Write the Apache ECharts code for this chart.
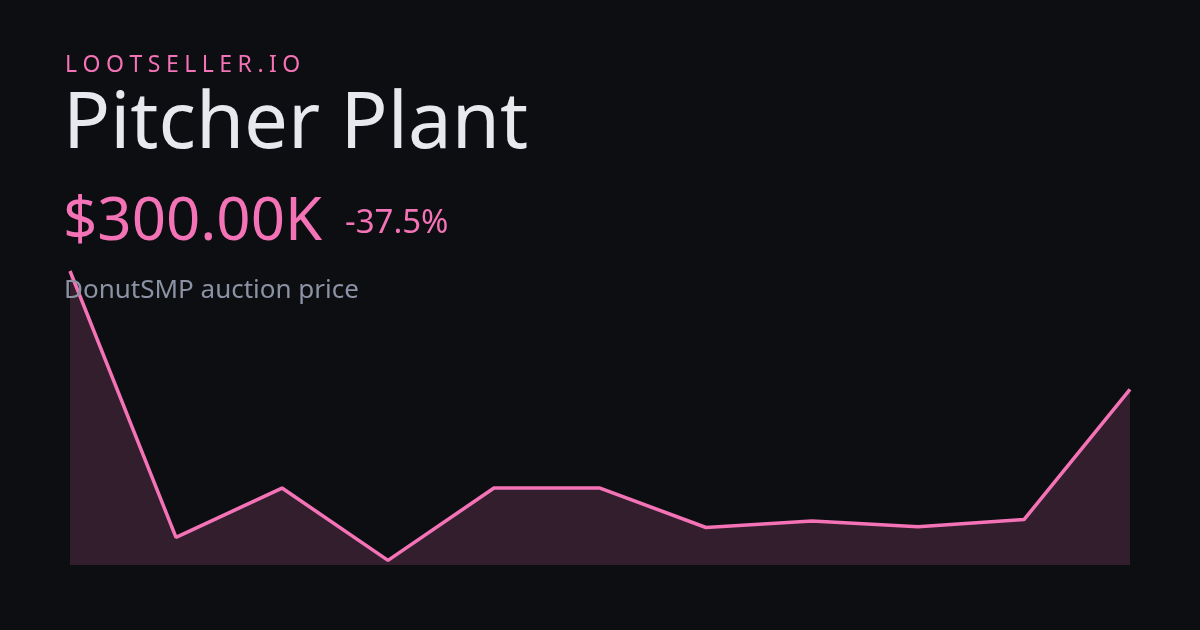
<!DOCTYPE html>
<html>
<head>
<meta charset="utf-8">
<script src="https://cdn.jsdelivr.net/npm/echarts@6/dist/echarts.min.js"></script>
<style>
html,body{margin:0;padding:0;background:#0d0e12;}
#chart{width:1200px;height:630px;}
</style>
</head>
<body>
<div id="chart"></div>
<script>
const brand = "LOOTSELLER.IO";
const itemName = "Pitcher Plant";
const priceLabel = "$300.00K";
const changeLabel = "-37.5%";
const subtitle = "DonutSMP auction price";
const categories = ["1","2","3","4","5","6","7","8","9","10","11"];
const prices = [480, 75, 150, 40, 150, 150, 90, 100, 91, 102, 300];

const pink = "#f472b6";
const chart = echarts.init(document.getElementById('chart'));

const brandRich = brand.split('').map(ch => '{s|' + ch + '}').join('');

chart.setOption({
  backgroundColor: '#0d0e12',
  animation: false,
  grid: {left: 70, right: 70, top: 271, bottom: 65},
  xAxis: {type: 'category', data: categories, boundaryGap: false, show: false},
  yAxis: {type: 'value', min: 33, max: 480, show: false},
  series: [{
    type: 'line',
    data: prices,
    symbol: 'none',
    lineStyle: {color: pink, width: 3.5},
    areaStyle: {color: 'rgba(244,114,182,0.17)', opacity: 1, origin: 'start'}
  }],
  graphic: [
    {type: 'text', left: 65, top: 54, z: 10, style: {
      text: brandRich, fill: pink, font: '23px "Noto Sans"',
      rich: {s: {fill: pink, font: '23px "Noto Sans"', padding: [0, 5.5, 0, 0]}}
    }},
    {type: 'text', left: 63, top: 87, z: 10, style: {text: itemName, fill: '#e8e9ee', font: '78px "Noto Sans"'}},
    {type: 'text', left: 63, top: 193, z: 10, style: {text: priceLabel, fill: pink, font: '60px "Noto Sans"'}},
    {type: 'text', left: 345, top: 207, z: 10, style: {text: changeLabel, fill: pink, font: '33px "Noto Sans"'}},
    {type: 'text', left: 64, top: 278, z: 10, style: {text: subtitle, fill: '#8b92a4', font: '26px "Noto Sans"'}}
  ]
});
</script>
</body>
</html>
